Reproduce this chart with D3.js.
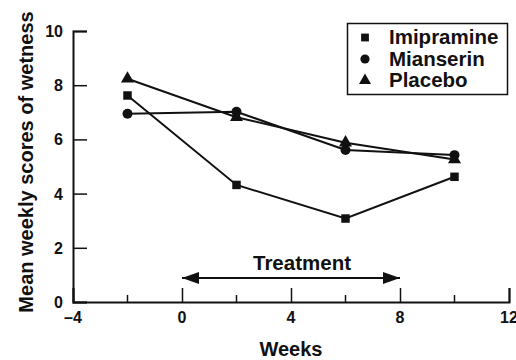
<!DOCTYPE html>
<html>
<head>
<meta charset="utf-8">
<script src="https://cdn.jsdelivr.net/npm/d3@7"></script>
<style>
  body { margin: 0; background: #fff; }
  svg text { font-family: "Liberation Sans", Arial, Helvetica, sans-serif; fill: #111; }
</style>
</head>
<body>
<script>
// Data
var weeks = [-2, 2, 6, 10];
var imipramine = [7.62, 4.32, 3.08, 4.62];
var mianserin = [6.95, 7.02, 5.61, 5.42];
var placebo = [8.24, 6.82, 5.88, 5.26];
var seriesNames = ["Imipramine", "Mianserin", "Placebo"];
var xTicks = [-4, 0, 4, 8, 12];
var xMinorTicks = [-2, 2, 6, 10];
var yTicks = [0, 2, 4, 6, 8, 10];
var treatment = [0, 8];

var width = 516, height = 360;

var x = d3.scaleLinear().domain([-4, 12]).range([73, 509]);
var y = d3.scaleLinear().domain([0, 10]).range([302, 31]);

var svg = d3.select("body").append("svg")
    .attr("width", width)
    .attr("height", height);

// axes
var xAxis = svg.append("g").attr("transform", "translate(0," + y(0) + ")")
    .call(d3.axisBottom(x).tickValues(xTicks).tickSize(-14).tickPadding(0).tickFormat(d3.format("d")));
xAxis.selectAll(".tick text").remove();
xAxis.append("g").selectAll("line").data(xMinorTicks).enter().append("line")
    .attr("x1", function(d) { return x(d); }).attr("x2", function(d) { return x(d); })
    .attr("y1", 0).attr("y2", -7).attr("stroke", "#111").attr("stroke-width", 1.5);

svg.append("g").selectAll("text").data(xTicks).enter().append("text")
    .attr("x", function(d) { return x(d); })
    .attr("y", 323)
    .attr("text-anchor", "middle")
    .style("font-size", "16px").style("font-weight", "bold")
    .text(function(d) { return d < 0 ? "\u2013" + Math.abs(d) : d; });

var yAxis = svg.append("g").attr("transform", "translate(" + x(-4) + ",0)")
    .call(d3.axisLeft(y).tickValues(yTicks).tickSize(-14).tickPadding(0));
yAxis.selectAll(".tick text").remove();
svg.append("g").selectAll("text").data(yTicks).enter().append("text")
    .attr("x", 63)
    .attr("y", function(d) { return y(d) + 6; })
    .attr("text-anchor", "end")
    .style("font-size", "16px").style("font-weight", "bold")
    .text(function(d) { return d; });

[xAxis, yAxis].forEach(function(a) {
  a.select(".domain").attr("stroke", "#111").attr("stroke-width", 2);
  a.selectAll(".tick line").attr("stroke", "#111").attr("stroke-width", 1.5);
});

// axis titles
svg.append("text")
    .attr("x", 291).attr("y", 356)
    .attr("text-anchor", "middle")
    .style("font-size", "20px").style("font-weight", "bold")
    .text("Weeks");

svg.append("text")
    .attr("transform", "translate(33,162) rotate(-90)")
    .attr("text-anchor", "middle")
    .style("font-size", "20px").style("font-weight", "bold")
    .text("Mean weekly scores of wetness");

// treatment arrow
svg.append("defs").append("marker")
    .attr("id", "head")
    .attr("viewBox", "0 0 17 12")
    .attr("refX", 17).attr("refY", 6)
    .attr("markerWidth", 17).attr("markerHeight", 12)
    .attr("markerUnits", "userSpaceOnUse")
    .attr("orient", "auto-start-reverse")
  .append("path").attr("d", "M0,0L17,6L0,12Z").attr("fill", "#111");

svg.append("line")
    .attr("x1", x(treatment[0])).attr("x2", x(treatment[1]))
    .attr("y1", 278).attr("y2", 278)
    .attr("stroke", "#111").attr("stroke-width", 2)
    .attr("marker-start", "url(#head)")
    .attr("marker-end", "url(#head)");

svg.append("text")
    .attr("x", 302).attr("y", 270)
    .attr("text-anchor", "middle")
    .style("font-size", "20.5px").style("font-weight", "bold")
    .text("Treatment");

// series
var series = [imipramine, mianserin, placebo];
var symbols = [d3.symbolSquare, d3.symbolCircle, d3.symbolTriangle];
var sizes = [72, 78, 74];

var line = d3.line()
    .x(function(d, i) { return x(weeks[i]); })
    .y(function(d) { return y(d); });

series.forEach(function(s, k) {
  svg.append("path")
      .datum(s)
      .attr("d", line)
      .attr("fill", "none")
      .attr("stroke", "#111")
      .attr("stroke-width", 2);
});

series.forEach(function(s, k) {
  svg.append("g").selectAll("path").data(s).enter().append("path")
      .attr("transform", function(d, i) { return "translate(" + x(weeks[i]) + "," + y(d) + ")"; })
      .attr("d", d3.symbol().type(symbols[k]).size(sizes[k]))
      .attr("fill", "#111");
});

// legend
var legend = svg.append("g");
legend.append("rect")
    .attr("x", 347.5).attr("y", 23.5)
    .attr("width", 160).attr("height", 71)
    .attr("fill", "#fff").attr("stroke", "#111").attr("stroke-width", 1.5);

seriesNames.forEach(function(n, k) {
  var cy = 37.5 + k * 21.5;
  legend.append("path")
      .attr("transform", "translate(365," + cy + ")")
      .attr("d", d3.symbol().type(symbols[k]).size(sizes[k] * 0.85))
      .attr("fill", "#111");
  legend.append("text")
      .attr("x", 389).attr("y", cy + 6.5)
      .style("font-size", "20.5px").style("font-weight", "bold")
      .text(n);
});
</script>
</body>
</html>
